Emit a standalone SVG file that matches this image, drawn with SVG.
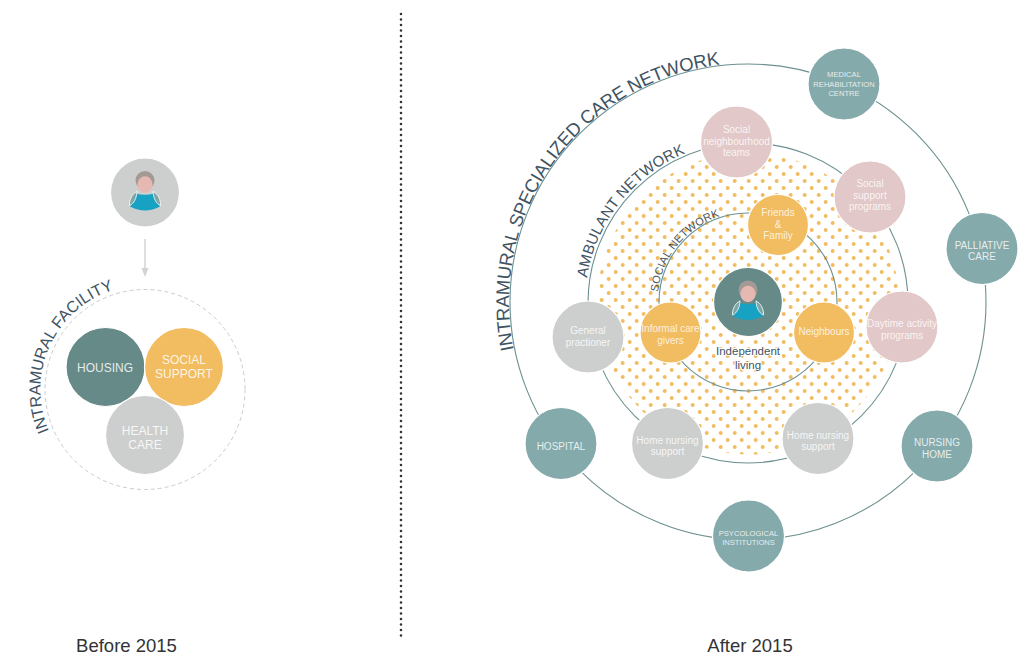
<svg xmlns="http://www.w3.org/2000/svg" xmlns:xlink="http://www.w3.org/1999/xlink" width="1034" height="659" viewBox="0 0 1034 659">
<style>
text{font-family:"Liberation Sans",Arial,sans-serif}
.n{stroke:#fff;stroke-width:1.2}
.big{fill:#85aaab}.pink{fill:#e2c8c8}.grey{fill:#cdcfce}.gold{fill:#f2bc61}.dark{fill:#668a88}
.l{fill:#fff;fill-opacity:.82;text-anchor:middle;font-size:10px}
.s{font-size:7.600px}
.cap{fill:#fff;fill-opacity:.85;text-anchor:middle;font-size:12px}
.ring{fill:none;stroke:#6c9090;stroke-width:1.1}
.arc{fill:#3f5463}
.foot{fill:#333;font-size:18.500px;text-anchor:middle}
.ind{font-size:11.500px;text-anchor:middle;fill:#3f5463;stroke:#fff;stroke-width:2;paint-order:stroke}
</style>
<defs>
<pattern id="dots" patternUnits="userSpaceOnUse" x="640" y="388" width="14" height="14">
<circle cx="10.7" cy="3" r="2" fill="#f2bc61"/><circle cx="3.7" cy="10" r="2" fill="#f2bc61"/>
</pattern>
<g id="person">
<ellipse cx="0" cy="-12" rx="9.500" ry="9.500" fill="#a39a96"/>
<ellipse cx="0" cy="-8" rx="7.600" ry="8.300" fill="#e6b8b2"/>
<path d="M-9 1 Q0 3.500 9 1 L15 14 Q0 22 -15 14Z" fill="#17a2c4"/>
<path d="M-8 -1 C-13 1 -16 8 -15.500 13 C-11 11 -8.500 6 -8 -1Z" fill="#7fa5a6" stroke="#fff" stroke-width=".8"/>
<path d="M8 -1 C13 1 16 8 15.500 13 C11 11 8.500 6 8 -1Z" fill="#7fa5a6" stroke="#fff" stroke-width=".8"/>
</g>
<path id="pOuter" d="M513.800 349.600 A239 239 0 0 1 748 63"/>
<path id="pMid" d="M587 278 A162 162 0 0 1 748 141"/>
<path id="pIn" d="M658 292 A90 90 0 0 1 748 212"/>
<path id="pLeft" d="M49 431 A104.500 104.500 0 0 1 145 285"/>
</defs>
<g id="divider"><line x1="401" y1="14" x2="401" y2="638" stroke="#333" stroke-width="2.600" stroke-linecap="round" stroke-dasharray="0 5.500"/></g>
<g id="connectors">
<circle cx="145" cy="389.500" r="100" fill="none" stroke="#c9cccb" stroke-width="1" stroke-dasharray="4 3"/>
<line x1="145" y1="239" x2="145" y2="270" stroke="#d2d4d3" stroke-width="1.500"/>
<path d="M141.500 268 L148.500 268 L145 277Z" fill="#d2d4d3"/>
<circle id="dotted-area" cx="748" cy="303.500" r="151" fill="url(#dots)"/>
<circle class="ring" cx="748" cy="302" r="238"/>
<circle class="ring" cx="748" cy="303" r="160"/>
<circle class="ring" cx="748" cy="302" r="89"/>
</g>
<g id="arc-labels">
<text class="arc" font-size="18.500"><textPath xlink:href="#pOuter" href="#pOuter" textLength="395" lengthAdjust="spacing">INTRAMURAL SPECIALIZED CARE NETWORK</textPath></text>
<text class="arc" font-size="15"><textPath xlink:href="#pMid" href="#pMid" textLength="166" lengthAdjust="spacing">AMBULANT NETWORK</textPath></text>
<text class="arc" font-size="11"><textPath xlink:href="#pIn" href="#pIn" textLength="103" lengthAdjust="spacing">SOCIAL NETWORK</textPath></text>
<text class="arc" font-size="16"><textPath xlink:href="#pLeft" href="#pLeft" textLength="175" lengthAdjust="spacing">INTRAMURAL FACILITY</textPath></text>
</g>
<g id="person-before"><circle class="n grey" cx="145" cy="192.500" r="34.500"/><use href="#person" xlink:href="#person" x="145" y="192.500"/></g>
<g id="housing"><circle class="n dark" cx="105.500" cy="367" r="39.500"/><text class="cap" x="105" y="371.500">HOUSING</text></g>
<g id="social-support"><circle class="n gold" cx="184" cy="367" r="39.500"/><text class="cap" x="184" y="364">SOCIAL</text><text class="cap" x="184" y="378">SUPPORT</text></g>
<g id="health-care"><circle class="n grey" cx="145" cy="435" r="39.500"/><text class="cap" x="145" y="435">HEALTH</text><text class="cap" x="145" y="449">CARE</text></g>
<g id="medical"><circle class="n big" cx="844" cy="84" r="36"/><text class="l s" x="844" y="77">MEDICAL</text><text class="l s" x="844" y="87">REHABILITATION</text><text class="l s" x="844" y="96">CENTRE</text></g>
<g id="palliative"><circle class="n big" cx="982" cy="248.500" r="36"/><text class="l" x="982" y="249">PALLIATIVE</text><text class="l" x="982" y="260">CARE</text></g>
<g id="nursing-home"><circle class="n big" cx="937" cy="446" r="36"/><text class="l" x="937" y="446">NURSING</text><text class="l" x="937" y="458">HOME</text></g>
<g id="psycological"><circle class="n big" cx="748.500" cy="536" r="36"/><text class="l s" x="748.500" y="536">PSYCOLOGICAL</text><text class="l s" x="748.500" y="545">INSTITUTIONS</text></g>
<g id="hospital"><circle class="n big" cx="561" cy="443.500" r="36"/><text class="l" x="561" y="450">HOSPITAL</text></g>
<g id="social-neighbourhood"><circle class="n pink" cx="736.500" cy="142" r="36"/><text class="l" x="736.500" y="133">Social</text><text class="l" x="736.500" y="145">neighbourhood</text><text class="l" x="736.500" y="156">teams</text></g>
<g id="social-programs"><circle class="n pink" cx="870" cy="197" r="36"/><text class="l" x="870" y="187">Social</text><text class="l" x="870" y="199">support</text><text class="l" x="870" y="210">programs</text></g>
<g id="daytime"><circle class="n pink" cx="902" cy="327" r="36"/><text class="l" x="902" y="327">Daytime activity</text><text class="l" x="902" y="339">programs</text></g>
<g id="home-nursing-2"><circle class="n grey" cx="818" cy="438.500" r="36"/><text class="l" x="818" y="439">Home nursing</text><text class="l" x="818" y="450">support</text></g>
<g id="home-nursing-1"><circle class="n grey" cx="667.500" cy="443.500" r="36"/><text class="l" x="667.500" y="444">Home nursing</text><text class="l" x="667.500" y="455">support</text></g>
<g id="general"><circle class="n grey" cx="588" cy="337" r="36"/><text class="l" x="588" y="334">General</text><text class="l" x="588" y="346">practioner</text></g>
<g id="informal"><circle class="n gold" cx="670.500" cy="332.500" r="30.500"/><text class="l" x="670.500" y="332">Informal care</text><text class="l" x="670.500" y="344">givers</text></g>
<g id="friends"><circle class="n gold" cx="778" cy="225" r="30.500"/><text class="l" x="778" y="216">Friends</text><text class="l" x="778" y="228">&amp;</text><text class="l" x="778" y="239">Family</text></g>
<g id="neighbours"><circle class="n gold" cx="824" cy="332.500" r="30.500"/><text class="l" x="824" y="335">Neighbours</text></g>
<g id="independent"><circle class="n dark" cx="748" cy="302" r="34.500"/><use href="#person" xlink:href="#person" x="748" y="302"/><text class="ind" x="748" y="355">Independent</text><text class="ind" x="748" y="369">living</text></g>
<text class="foot" x="126.500" y="652">Before 2015</text>
<text class="foot" x="750" y="652">After 2015</text>
</svg>
